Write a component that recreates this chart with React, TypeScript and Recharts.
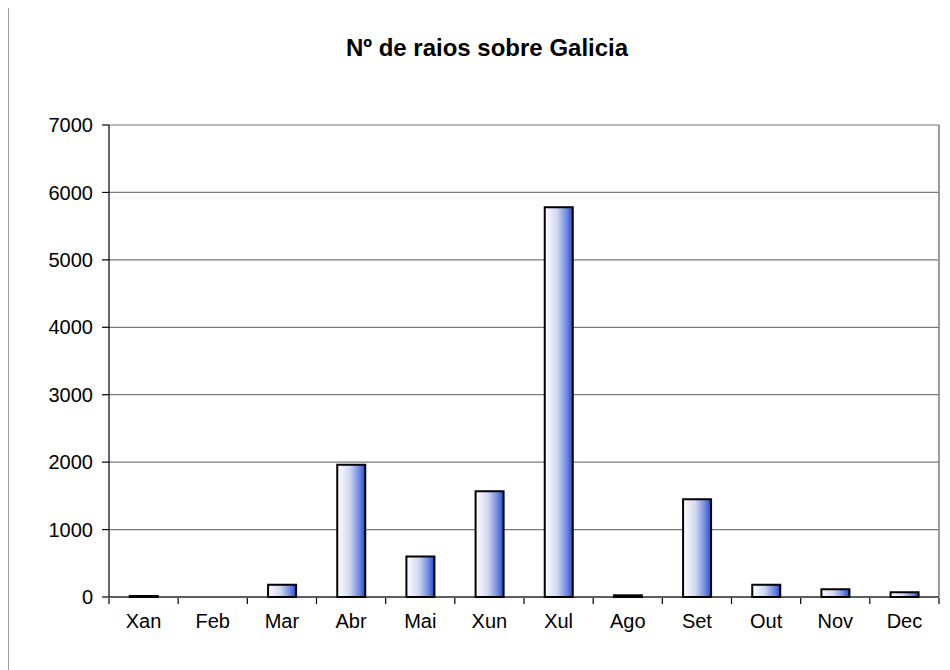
import React from "react";
import { BarChart, Bar, XAxis, YAxis, CartesianGrid, ReferenceLine } from "recharts";

const months = ["Xan", "Feb", "Mar", "Abr", "Mai", "Xun", "Xul", "Ago", "Set", "Out", "Nov", "Dec"];
const raios = [15, 0, 180, 1960, 600, 1570, 5780, 25, 1450, 180, 115, 70];
const yTicks = [0, 1000, 2000, 3000, 4000, 5000, 6000, 7000];
const boundaryTicks = [0, 1, 2, 3, 4, 5, 6, 7, 8, 9, 10, 11, 12];

const data = months.map((mes, i) => ({ mes, raios: raios[i], pos: i + 0.5 }));

const font = "Arial, 'Liberation Sans', sans-serif";

export default function App() {
  return (
    <div style={{ position: "relative", width: 942, height: 662, fontFamily: font }}>
      {/* outer frame (only top/left visible in the source) */}
      <div style={{ position: "absolute", left: 0, top: -1, width: 960, height: 680, borderLeft: "1px solid #a0a0a0", borderTop: "1px solid #a0a0a0", pointerEvents: "none" }} />
      <div style={{ position: "absolute", left: 0, top: 26, width: 958, textAlign: "center", fontSize: 24, fontWeight: "bold", lineHeight: "28px", color: "#000" }}>
        Nº de raios sobre Galicia
      </div>
      <BarChart width={942} height={662} data={data}
        margin={{ top: 117, right: 11, bottom: 71, left: 0 }} barCategoryGap="30%">
        <defs>
          <linearGradient id="barGrad" x1="0" y1="0" x2="1" y2="0">
            <stop offset="0%" stopColor="#ffffff" />
            <stop offset="45%" stopColor="#d0d7f1" />
            <stop offset="80%" stopColor="#6a87df" />
            <stop offset="100%" stopColor="#1c4ccf" />
          </linearGradient>
        </defs>
        <CartesianGrid vertical={false} stroke="#7a7a7a" strokeWidth={1.2} />
        <XAxis dataKey="mes" height={1} tickLine={false} tickSize={6} tickMargin={11}
          axisLine={{ stroke: "#000", strokeWidth: 1.2 }}
          tick={{ fill: "#000", fontSize: 20, fontFamily: font }} interval={0} />
        <XAxis xAxisId="ticks" type="number" dataKey="pos" domain={[0, 12]} ticks={boundaryTicks}
          height={1} tickFormatter={() => ""} tickSize={6} axisLine={false}
          tickLine={{ stroke: "#000", strokeWidth: 1.2 }} allowDataOverflow interval={0} />
        <YAxis domain={[0, 7000]} ticks={yTicks} width={101} tickSize={7} tickMargin={9}
          axisLine={{ stroke: "#000", strokeWidth: 1.2 }} tickLine={{ stroke: "#000", strokeWidth: 1.2 }}
          tick={{ fill: "#000", fontSize: 20, fontFamily: font }} interval={0} />
        <ReferenceLine xAxisId="ticks" x={12} stroke="#7a7a7a" strokeWidth={1.5} />
        <Bar dataKey="raios" fill="url(#barGrad)" stroke="#000" strokeWidth={2} isAnimationActive={false} />
      </BarChart>
    </div>
  );
}
